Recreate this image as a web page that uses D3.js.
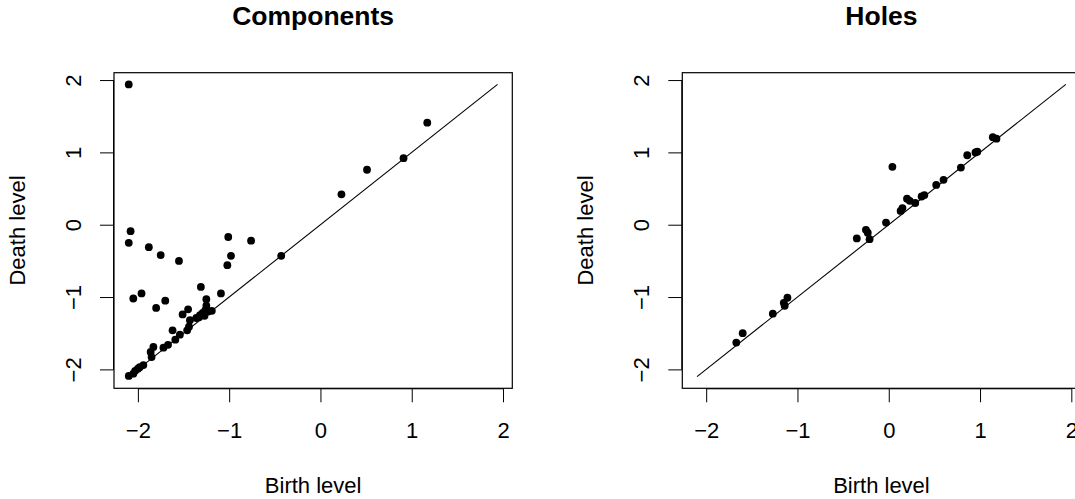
<!DOCTYPE html>
<html>
<head>
<meta charset="utf-8">
<script src="https://cdn.jsdelivr.net/npm/d3@7"></script>
<style>
  html, body { margin: 0; padding: 0; background: #fff; }
  svg { display: block; }
  text { font-family: "Liberation Sans", Arial, Helvetica, sans-serif; fill: #000; }
</style>
</head>
<body>
<svg id="chart" width="1075" height="499"></svg>
<script>
// Persistence diagram: birth / death levels of components (dim 0) and holes (dim 1)
const componentBirth = [-2.10, -2.08, -2.10, -1.88, -1.75, -1.55, -1.01, -0.76, -0.98, -1.02,
  -0.43, 0.23, 0.51, 0.91, 1.17, -2.05, -1.96, -1.31, -1.09, -1.25,
  -1.70, -1.80, -1.45, -1.51, -1.25, -1.62, -1.54, -1.46, -1.59, -1.67,
  -1.83, -1.86, -1.72, -1.85, -1.94, -1.98, -2.10, -2.05, -2.03, -2.00,
  -1.43, -1.36, -1.32, -1.27, -1.23, -1.19, -1.44, -1.33, -1.26, -1.29];
const componentDeath = [1.94, -0.09, -0.25, -0.31, -0.42, -0.50, -0.17, -0.22, -0.43, -0.56,
  -0.43, 0.42, 0.76, 0.92, 1.41, -1.02, -0.95, -0.86, -0.95, -1.03,
  -1.05, -1.15, -1.17, -1.24, -1.12, -1.46, -1.52, -1.46, -1.59, -1.66,
  -1.69, -1.76, -1.70, -1.83, -1.94, -1.97, -2.09, -2.06, -2.02, -1.99,
  -1.32, -1.29, -1.25, -1.26, -1.20, -1.19, -1.41, -1.28, -1.18, -1.22];

const holeBirth = [-1.67, -1.60, -1.27, -1.15, -1.11, -1.14, -0.35, -0.25, -0.23, -0.21,
  0.04, -0.03, 0.13, 0.15, 0.20, 0.23, 0.29, 0.36, 0.39, 0.52,
  0.60, 0.79, 0.86, 0.95, 0.97, 1.14, 1.18];
const holeDeath = [-1.63, -1.50, -1.23, -1.08, -1.01, -1.12, -0.19, -0.07, -0.11, -0.20,
  0.80, 0.03, 0.19, 0.23, 0.36, 0.33, 0.30, 0.39, 0.41, 0.55,
  0.62, 0.79, 0.96, 1.00, 1.01, 1.21, 1.19];

// shared limits of the diagonal and of both axes
const diagLimits = [-2.10, 1.94];
const tickValues = [-2, -1, 0, 1, 2];
const panelTitles = ["Components", "Holes"];
const xTitle = "Birth level";
const yTitle = "Death level";

const svg = d3.select("#chart");
const plotW = 398.3, plotH = 315.6;
const panelLefts = [114, 682.3];
const plotTop = 72.7;
const axisFont = "22px";
const fmt = d3.format("d");

// 4% padding around the limits
const pad = (diagLimits[1] - diagLimits[0]) * 0.04;
const domain = [diagLimits[0] - pad, diagLimits[1] + pad];

const panels = [
  { title: panelTitles[0], birth: componentBirth, death: componentDeath },
  { title: panelTitles[1], birth: holeBirth, death: holeDeath }
];

panels.forEach((p, i) => {
  const g = svg.append("g").attr("transform", `translate(${panelLefts[i]},${plotTop})`);
  const x = d3.scaleLinear().domain(domain).range([0, plotW]);
  const y = d3.scaleLinear().domain(domain).range([plotH, 0]);

  // x axis
  const xa = g.append("g").attr("transform", `translate(0,${plotH})`)
    .call(d3.axisBottom(x).tickValues(tickValues).tickFormat(fmt).tickSize(14).tickSizeOuter(0));
  xa.select(".domain").attr("d", `M${x(-2)},0.5H${x(2)}`).attr("stroke", "#000");
  xa.selectAll(".tick line").attr("stroke", "#000");
  xa.selectAll(".tick text").attr("y", 50).attr("dy", null)
    .style("font-size", axisFont).style("font-family", "'Liberation Sans', Arial, sans-serif");

  // y axis, labels parallel to the axis
  const ya = g.append("g")
    .call(d3.axisLeft(y).tickValues(tickValues).tickFormat(fmt).tickSize(14).tickSizeOuter(0));
  ya.select(".domain").attr("d", `M-0.5,${y(-2)}V${y(2)}`).attr("stroke", "#000");
  ya.selectAll(".tick line").attr("stroke", "#000");
  ya.selectAll(".tick text")
    .attr("x", null).attr("dy", null)
    .attr("text-anchor", "middle")
    .attr("transform", "translate(-33.5,0) rotate(-90)")
    .style("font-size", axisFont).style("font-family", "'Liberation Sans', Arial, sans-serif");

  // frame
  g.append("rect").attr("x", 0).attr("y", 0).attr("width", plotW).attr("height", plotH)
    .attr("fill", "none").attr("stroke", "#000").attr("stroke-width", 1.2);

  // diagonal
  g.append("line")
    .attr("x1", x(diagLimits[0])).attr("y1", y(diagLimits[0]))
    .attr("x2", x(diagLimits[1])).attr("y2", y(diagLimits[1]))
    .attr("stroke", "#000").attr("stroke-width", 1.1);

  // points
  g.selectAll("circle.pt").data(d3.range(p.birth.length)).join("circle")
    .attr("class", "pt")
    .attr("cx", k => x(p.birth[k])).attr("cy", k => y(p.death[k]))
    .attr("r", 3.9).attr("fill", "#000");

  // titles
  g.append("text").attr("x", plotW / 2).attr("y", 25 - plotTop)
    .attr("text-anchor", "middle").style("font-size", "26.5px").style("font-weight", "bold")
    .text(p.title);
  g.append("text").attr("x", plotW / 2).attr("y", 493 - plotTop)
    .attr("text-anchor", "middle").style("font-size", axisFont).text(xTitle);
  g.append("text").attr("transform", `translate(-89,${plotH / 2}) rotate(-90)`)
    .attr("text-anchor", "middle").style("font-size", axisFont).text(yTitle);
});
</script>
</body>
</html>
